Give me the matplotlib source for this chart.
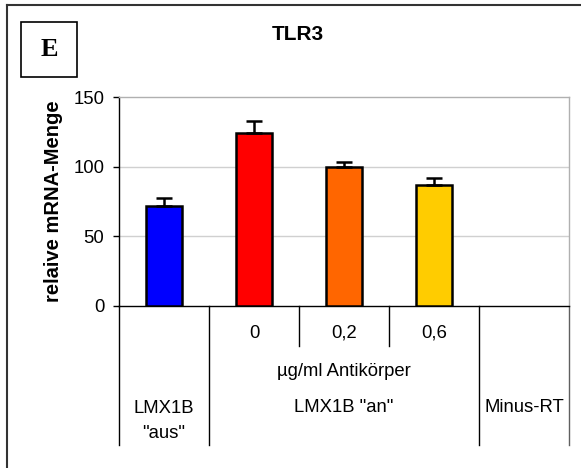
import matplotlib.pyplot as plt
from matplotlib.lines import Line2D
from matplotlib.patches import Rectangle
import matplotlib.transforms as mtransforms

plt.rcParams['font.family'] = ['Liberation Sans', 'DejaVu Sans']

# mRNA-Werte TLR3 (relativ), mit Standardfehler nach oben
values = [72, 124, 100, 86.5, 0]
errors = [5.5, 9, 3.5, 5.5, 0]
colors = ['#0000FF', '#FF0000', '#FF6600', '#FFCC00', 'none']
dose_labels = ['0', '0,2', '0,6']
group_labels = ['LMX1B\n"aus"', 'LMX1B "an"', 'Minus-RT']
yticks = [0, 50, 100, 150]

FS = 13.3

W, H = 581, 468
fig = plt.figure(figsize=(W / 100, H / 100), dpi=100)

def px(x, y):
    return x / W, 1 - y / H

# Achsenbereich
x0, y0 = px(119, 306)
x1, y1 = px(569, 97)
ax = fig.add_axes([x0, y0, x1 - x0, y1 - y0])

xs = range(len(values))
for i in xs:
    if values[i] == 0:
        continue
    ax.bar(i, values[i], width=0.4, color=colors[i], edgecolor='black',
           linewidth=1.8, zorder=3)
    ax.errorbar(i, values[i], yerr=[[0], [errors[i]]], fmt='none',
                ecolor='black', elinewidth=1.8, capsize=6, capthick=1.8, zorder=4)

ax.set_xlim(-0.5, 4.5)
ax.set_ylim(0, 150)
ax.set_yticks(yticks)
ax.tick_params(axis='y', direction='out', length=4.5, width=1, labelsize=FS, pad=6)
ax.set_xticks([])
for y in [50, 100]:
    ax.axhline(y, color='#D0D0D0', linewidth=1, zorder=1)
ax.spines['top'].set_color('#B0B0B0')
ax.spines['right'].set_color('#B0B0B0')
ax.spines['left'].set_color('black')
ax.spines['bottom'].set_color('black')
for s in ax.spines.values():
    s.set_linewidth(1)

ax.set_ylabel('relaive mRNA-Menge', fontsize=14.5, fontweight='bold')
ax.yaxis.set_label_coords(-56 / 450, 0.5)

# Tabellenartige Kategorienachse unterhalb
tr = mtransforms.blended_transform_factory(ax.transData, ax.transAxes)
y_short = -40 / 209
y_long = -139 / 209
for xb in [-0.5, 0.5, 3.5]:
    ax.add_line(Line2D([xb, xb], [0, y_long], transform=tr, color='black',
                       linewidth=1, clip_on=False))
ax.add_line(Line2D([4.5, 4.5], [0, y_long], transform=tr, color='#606060',
                   linewidth=1, clip_on=False))
for xb in [1.5, 2.5]:
    ax.add_line(Line2D([xb, xb], [0, y_short], transform=tr, color='black',
                       linewidth=1, clip_on=False))

for i, lab in enumerate(dose_labels):
    ax.text(1 + i, -27 / 209, lab, transform=tr, ha='center', va='center',
            fontsize=FS)
ax.text(2, -65 / 209, 'µg/ml Antikörper', transform=tr, ha='center',
        va='center', fontsize=FS)
ax.text(0, -115 / 209, group_labels[0], transform=tr, ha='center',
        va='center', fontsize=FS, linespacing=1.55)
ax.text(2, -102 / 209, group_labels[1], transform=tr, ha='center',
        va='center', fontsize=FS)
ax.text(4, -102 / 209, group_labels[2], transform=tr, ha='center',
        va='center', fontsize=FS)

# Titel
fig.text(*px(298, 34), 'TLR3', ha='center', va='center', fontsize=15,
         fontweight='bold')

# Panel-Kennung
bx0, by0 = px(21, 77)
bx1, by1 = px(77, 22)
fig.add_artist(Rectangle((bx0, by0), bx1 - bx0, by1 - by0, transform=fig.transFigure,
                         fill=False, edgecolor='black', linewidth=1.2))
fig.text(*px(49, 50), 'E', ha='center', va='center', fontsize=19,
         fontweight='bold', family=['Liberation Serif', 'DejaVu Serif'])

# Rahmen (links und oben)
fx, fy = px(7, 5)
fig.add_artist(Line2D([fx, fx], [0, fy], transform=fig.transFigure,
                      color='#333333', linewidth=1.5))
fig.add_artist(Line2D([fx, 1], [fy, fy], transform=fig.transFigure,
                      color='#333333', linewidth=1.5))

fig.savefig('out.png', dpi=100)
